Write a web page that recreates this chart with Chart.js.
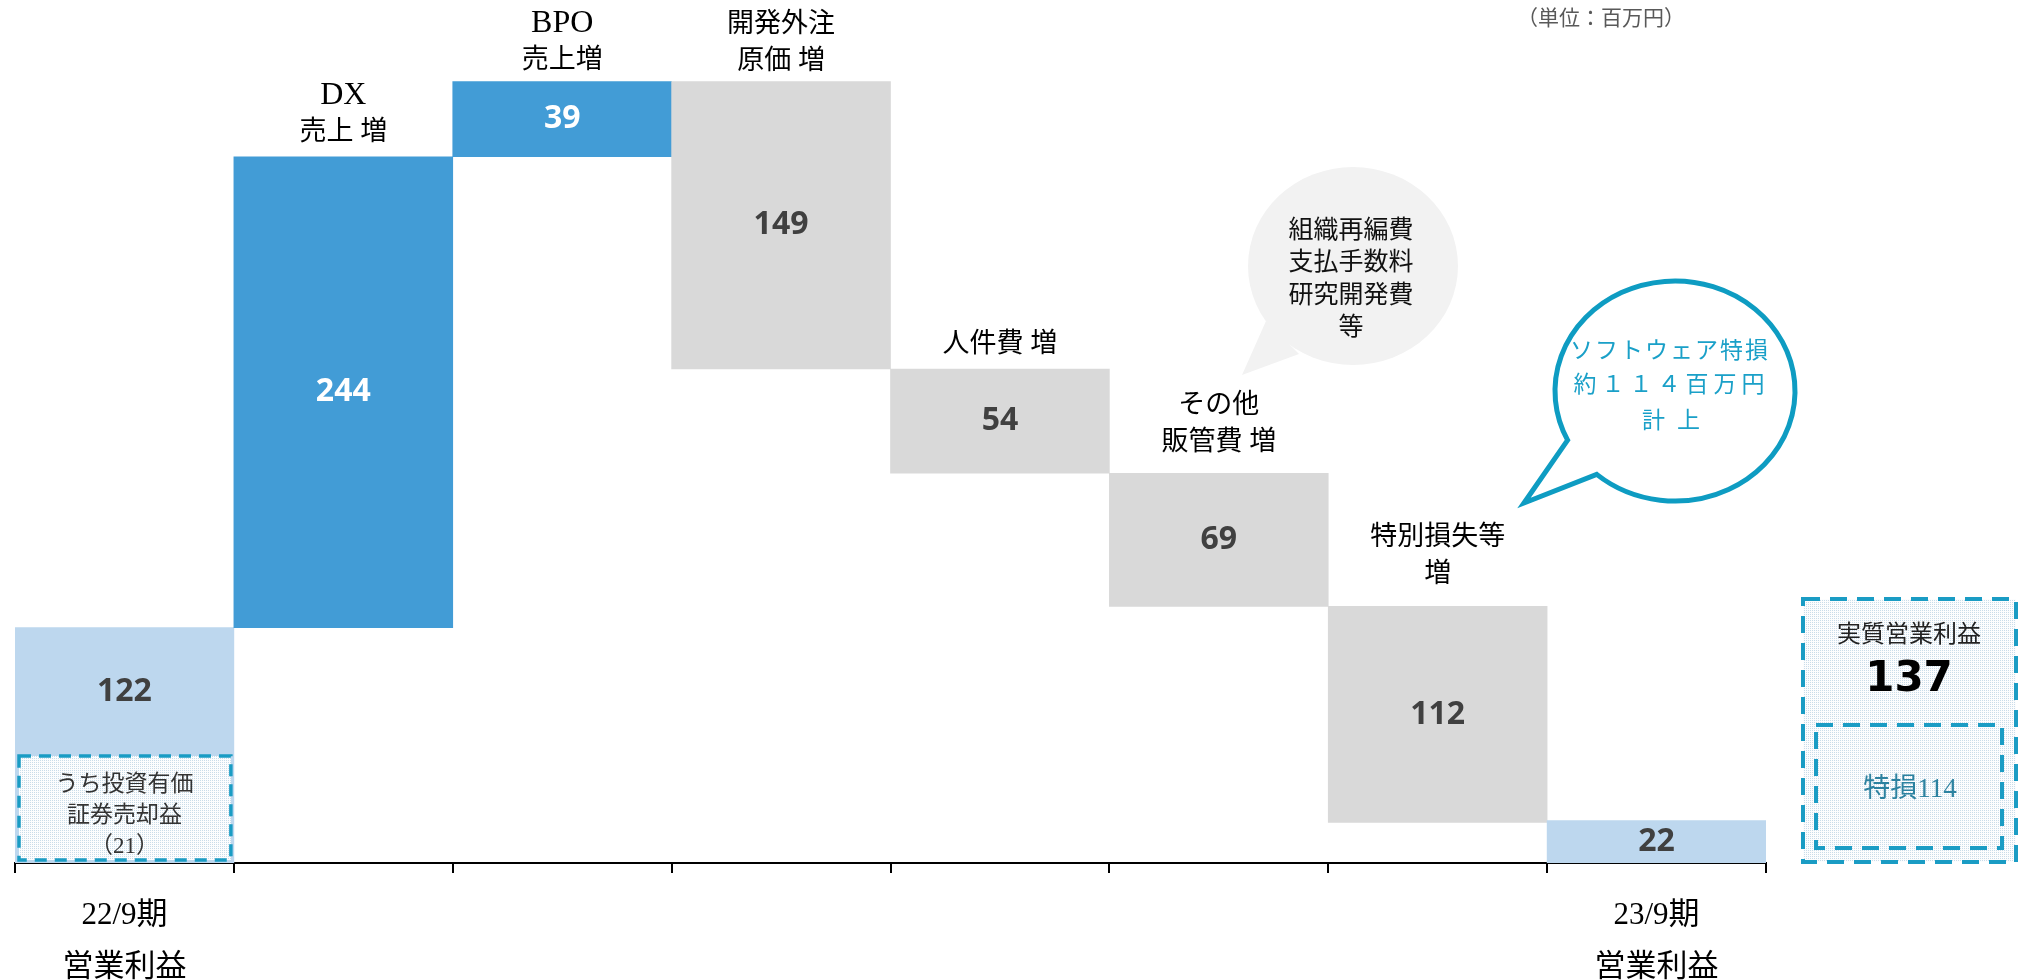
<!DOCTYPE html>
<html><head><meta charset="utf-8">
<script src="https://cdn.jsdelivr.net/npm/chart.js@4.4.1/dist/chart.umd.min.js"></script>
<style>html,body{margin:0;padding:0;background:#fff;overflow:hidden}#wrap{width:2026px;height:980px;position:relative}</style>
</head><body><div id="wrap"><canvas id="c" width="2026" height="980"></canvas></div>
<script>
// ---- data ----
const categories = ['22/9期 営業利益','DX 売上 増','BPO 売上増','開発外注 原価 増','人件費 増','その他 販管費 増','特別損失等 増','23/9期 営業利益'];
const values = [122, 244, 39, -149, -54, -69, -112, 22];
const barKinds = ['total','up','up','down','down','down','down','total'];
const tickLabels = [['22/9期','営業利益'], '', '', '', '', '', '', ['23/9期','営業利益']];
const headerLabels = [[], ['DX','売上 増'], ['BPO','売上増'], ['開発外注','原価 増'], ['人件費 増'], ['その他','販管費 増'], ['特別損失等','増'], []];
const valueLabels = ['122','244','39','149','54','69','112','22'];
const noteLines = ['うち投資有価','証券売却益','（21）'];
const adjustedTitle = '実質営業利益';
const adjustedValue = '137';
const specialLossLabel = '特損114';
const grayBubbleLines = ['組織再編費','支払手数料','研究開発費','等'];
const tealBubbleLines = ['ソフトウェア特損','約１１４百万円','計上'];
const unitLabel = '（単位：百万円）';

// ---- styles ----
const SERIF = "'Liberation Serif','DejaVu Serif','Noto Sans CJK JP',serif";
const SANS = "'Open Sans','Noto Sans CJK JP',sans-serif";
const kindColor = {total:'#BDD7EE', up:'#429CD6', down:'#D9D9D9'};
const kindText = {total:'#404040', up:'#FFFFFF', down:'#404040'};
const headerGaps = [0, 24, 21, 20, 24, 30, 31, 0];
const DASH = '#1A9CC4';

let run = 0;
const ranges = values.map((v, i) => {
  if (barKinds[i] === 'total') { run = v; return [0, v]; }
  const s = run; run += v; return [s, run];
});

function makePattern(ctx){
  const c = document.createElement('canvas'); c.width = 4; c.height = 4;
  const g = c.getContext('2d');
  g.fillStyle = '#FCFDFE'; g.fillRect(0,0,4,4);
  g.fillStyle = '#C9DCE9';
  g.fillRect(0,0,1,1); g.fillRect(2,2,1,1); g.fillRect(2,0,1,1); g.fillRect(0,2,1,1);
  return ctx.createPattern(c, 'repeat');
}
function txt(ctx, s, x, y, font, color, ls){
  ctx.font = font; ctx.fillStyle = color; ctx.textAlign = 'center'; ctx.textBaseline = 'middle';
  const l = ls || 0;
  ctx.letterSpacing = l + 'px';
  ctx.fillText(s, x + l/2, y);
  ctx.letterSpacing = '0px';
}
function dashedBox(ctx, x1, y1, x2, y2, fill, lw, dash){
  ctx.fillStyle = fill; ctx.fillRect(x1, y1, x2-x1, y2-y1);
  ctx.strokeStyle = DASH; ctx.lineWidth = lw; ctx.setLineDash(dash);
  ctx.strokeRect(x1, y1, x2-x1, y2-y1);
  ctx.setLineDash([]);
}

const overlay = {
  id: 'overlay',
  afterDatasetsDraw(chart){
    const ctx = chart.ctx;
    const meta = chart.getDatasetMeta(0);
    const pat = makePattern(ctx);
    ctx.save();
    meta.data.forEach((bar, i) => {
      const top = Math.min(bar.y, bar.base), bottom = Math.max(bar.y, bar.base);
      const left = bar.x - bar.width/2, right = bar.x + bar.width/2;
      const lines = headerLabels[i];
      lines.forEach((t, k) => {
        const y = top - headerGaps[i] - (lines.length - 1 - k) * 37;
        const size = /^[\x00-\x7F]+$/.test(t) ? 32 : 27;
        txt(ctx, t, bar.x, y, size + 'px ' + SERIF, '#000');
      });
      let ly = (top + bottom) / 2;
      if (i === 0) {
        const nTop = bottom - 107;
        dashedBox(ctx, left + 4, nTop, right - 3, bottom - 3, pat, 3.5, [12, 8]);
        noteLines.forEach((t, k) => txt(ctx, t, bar.x, nTop + 29 + k * 31, '23px ' + SERIF, '#333'));
        ly = (top + nTop) / 2;
      }
      txt(ctx, valueLabels[i], bar.x, ly, 'bold 32px ' + SANS, kindText[barKinds[i]]);
    });

    // right summary box
    dashedBox(ctx, 1803, 599, 2016, 862, pat, 4, [17, 10]);
    dashedBox(ctx, 1816, 725, 2002, 848, 'rgba(0,0,0,0)', 4, [17, 10]);
    txt(ctx, adjustedTitle, 1909, 636, '24px ' + SERIF, '#222');
    txt(ctx, adjustedValue, 1909, 680, "bold 42px 'DejaVu Sans',sans-serif", '#000');
    txt(ctx, specialLossLabel, 1910, 790, '27px ' + SERIF, '#2C82A0');

    // gray speech bubble
    ctx.fillStyle = '#F2F2F2';
    ctx.beginPath();
    ctx.ellipse(1353, 266, 105, 99, 0, 0, Math.PI*2);
    ctx.fill();
    ctx.beginPath();
    ctx.moveTo(1266, 321); ctx.lineTo(1242, 375); ctx.lineTo(1299, 354); ctx.closePath();
    ctx.fill();
    grayBubbleLines.forEach((t, k) => txt(ctx, t, 1351, 231 + k * 32.5, '25px ' + SERIF, '#111'));

    // teal speech bubble
    const cx = 1675, cy = 391, rx = 120, ry = 110;
    const a1 = Math.atan2((439-cy)/ry, (1570-cx)/rx);
    const a2 = Math.atan2((473-cy)/ry, (1598-cx)/rx);
    ctx.beginPath();
    ctx.ellipse(cx, cy, rx, ry, 0, a1, a2, false);
    ctx.lineTo(1524, 503);
    ctx.closePath();
    ctx.fillStyle = '#FFFFFF'; ctx.fill();
    ctx.strokeStyle = '#0E9CC2'; ctx.lineWidth = 5; ctx.lineJoin = 'miter'; ctx.stroke();
    txt(ctx, tealBubbleLines[0], 1669, 352, '23px ' + SERIF, '#1AA0C8', 2);
    txt(ctx, tealBubbleLines[1], 1669, 386, '23px ' + SERIF, '#1AA0C8', 5);
    txt(ctx, tealBubbleLines[2], 1671, 422, '23px ' + SERIF, '#1AA0C8', 12);

    // unit
    txt(ctx, unitLabel, 1601, 19, '21px ' + SANS, '#595959');
    ctx.restore();
  }
};

new Chart(document.getElementById('c'), {
  type: 'bar',
  data: {
    labels: categories,
    datasets: [{
      data: ranges,
      backgroundColor: barKinds.map(k => kindColor[k]),
      borderWidth: 0,
      barPercentage: 1,
      categoryPercentage: 1
    }]
  },
  options: {
    responsive: false,
    animation: false,
    devicePixelRatio: 1,
    layout: { padding: { left: 15, right: 260, top: 14, bottom: 0 } },
    plugins: { legend: { display: false }, tooltip: { enabled: false } },
    scales: {
      x: {
        grid: { display: true, drawOnChartArea: false, drawTicks: true, tickLength: 10, color: '#000', lineWidth: 2, offset: true },
        border: { display: true, color: '#000', width: 2 },
        ticks: { autoSkip: false, maxRotation: 0, minRotation: 0, padding: 17, color: '#000',
          font: { family: SERIF, size: 31, lineHeight: 52/31 },
          callback: (v, i) => tickLabels[i] },
        afterFit: s => { s.height = 117; }
      },
      y: { display: false, min: 0, max: 440 }
    }
  },
  plugins: [overlay]
});
</script></body></html>
